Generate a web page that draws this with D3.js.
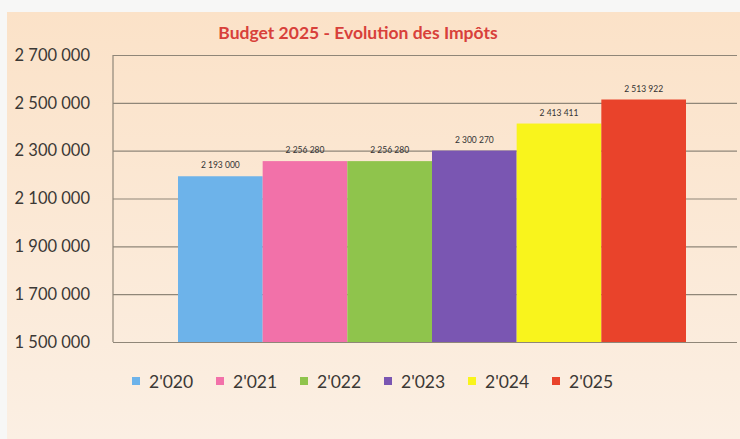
<!DOCTYPE html>
<html>
<head>
<meta charset="utf-8">
<script src="https://cdn.jsdelivr.net/npm/d3@7"></script>
<style>
  html, body { margin: 0; padding: 0; background: #f7f7f6; }
  svg { display: block; }
</style>
</head>
<body>
<div id="chart"></div>
<script>
const years = ["2'020", "2'021", "2'022", "2'023", "2'024", "2'025"];
const impots = [2193000, 2256280, 2256280, 2300270, 2413411, 2513922];
const colors = ["#6db3ea", "#f271a9", "#8fc44c", "#7a56b2", "#f9f41c", "#e9432b"];
const yTicks = [1500000, 1700000, 1900000, 2100000, 2300000, 2500000, 2700000];
const title = "Budget 2025 - Evolution des Impôts";

const width = 740, height = 439;
const font = "Lato, 'Open Sans', sans-serif";

const svg = d3.select('#chart').append('svg')
    .attr('width', width)
    .attr('height', height)
    .attr('viewBox', `0 0 ${width} ${height}`);

// peach paper background
const defs = svg.append('defs');
const grad = defs.append('linearGradient')
    .attr('id', 'bg')
    .attr('x1', 0).attr('y1', 0).attr('x2', 0).attr('y2', 1);
grad.append('stop').attr('offset', '0%').attr('stop-color', '#fbe2c8');
grad.append('stop').attr('offset', '100%').attr('stop-color', '#fbefe3');

svg.append('rect')
    .attr('x', 7).attr('y', 12)
    .attr('width', width - 7).attr('height', height - 12)
    .attr('fill', 'url(#bg)');

const xScale = d3.scaleBand()
    .domain(years)
    .range([178, 686])
    .padding(0);

const yScale = d3.scaleLinear()
    .domain([1500000, 2700000])
    .range([342, 55]);

const fmt = v => d3.format(',')(v).replace(/,/g, ' ');

// gridlines + y labels
const yAxis = d3.axisLeft(yScale)
    .tickValues(yTicks)
    .tickSize(-(737 - 113))
    .tickPadding(23)
    .tickFormat(fmt);

const gy = svg.append('g')
    .attr('transform', 'translate(113,0)')
    .call(yAxis);
gy.select('.domain').remove();
gy.selectAll('.tick line')
    .attr('stroke', '#8f8678')
    .attr('stroke-width', 1.2);
gy.selectAll('.tick text')
    .attr('font-family', font)
    .attr('font-size', 16.5)
    .attr('fill', '#3b3835');

svg.append('line')
    .attr('x1', 113).attr('x2', 113)
    .attr('y1', yScale(2700000)).attr('y2', yScale(1500000))
    .attr('stroke', '#8f8678')
    .attr('stroke-width', 1.2);

// bars
const data = years.map((y, i) => ({ year: y, value: impots[i], color: colors[i] }));

svg.selectAll('.bar')
    .data(data)
    .enter()
    .append('rect')
    .classed('bar', true)
    .attr('x', d => xScale(d.year))
    .attr('y', d => yScale(d.value))
    .attr('width', xScale.bandwidth())
    .attr('height', d => yScale(1500000) - yScale(d.value))
    .attr('fill', d => d.color);

// data labels
svg.selectAll('.data-label')
    .data(data)
    .enter()
    .append('text')
    .text(d => fmt(d.value))
    .attr('x', d => xScale(d.year) + xScale.bandwidth() / 2)
    .attr('y', d => yScale(d.value) - 8)
    .attr('text-anchor', 'middle')
    .attr('font-family', font)
    .attr('font-size', 8.5)
    .attr('fill', '#333');

// title
svg.append('text')
    .text(title)
    .attr('x', 358)
    .attr('y', 39)
    .attr('text-anchor', 'middle')
    .attr('font-family', font)
    .attr('font-weight', 'bold')
    .attr('font-size', 17.5)
    .attr('fill', '#d8403a');

// legend
const legend = svg.selectAll('.legend')
    .data(data)
    .enter()
    .append('g')
    .classed('legend', true)
    .attr('transform', (d, i) => `translate(${132 + i * 84},382)`);

legend.append('rect')
    .attr('x', 0).attr('y', -5)
    .attr('width', 8).attr('height', 8)
    .attr('fill', d => d.color);

legend.append('text')
    .text(d => d.year)
    .attr('x', 17)
    .attr('y', 0)
    .attr('dy', '0.35em')
    .attr('font-family', font)
    .attr('font-size', 17.5)
    .attr('fill', '#3b3835');
</script>
</body>
</html>
